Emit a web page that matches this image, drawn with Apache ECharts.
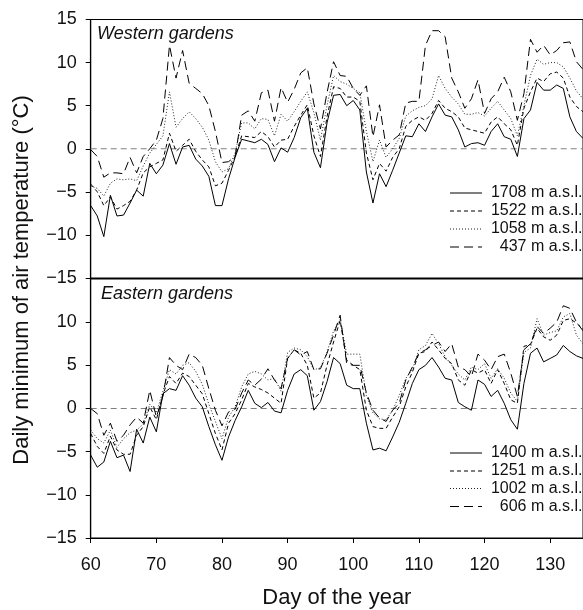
<!DOCTYPE html>
<html>
<head>
<meta charset="utf-8">
<script src="https://cdn.jsdelivr.net/npm/echarts@6/dist/echarts.min.js"></script>
<style>
  html, body { margin: 0; padding: 0; background: #fff; }
  #chart { width: 583px; height: 610px; }
</style>
</head>
<body>
<div id="chart"></div>
<script>
// Day of year 60..135
const days = [];
for (let d = 60; d <= 135; d++) days.push(d);

// Western gardens: daily minimum air temperature (°C)
const west1708 = [-6.6,-7.8,-10.2,-5.4,-7.8,-7.7,-6.3,-4.8,-5.5,-1.7,-2.9,-1.9,0.6,-1.8,0.2,0.4,-1.2,-2.0,-3.2,-6.6,-6.6,-3.5,-1.0,1.1,0.9,0.7,1.1,0.5,-1.5,0.1,-0.4,1.3,3.6,4.7,-0.4,-2.2,3.0,6.2,6.3,5.0,5.6,4.5,-2.7,-6.3,-2.9,-4.4,-2.5,-0.5,1.5,1.4,2.9,2.0,3.7,5.2,3.9,3.7,2.2,0.2,0.6,0.7,0.4,2.0,2.9,1.4,1.1,-0.9,3.5,4.5,7.7,6.8,6.8,7.4,7.0,3.7,2.0,1.2];
const west1522 = [-4.1,-5.0,-6.6,-5.6,-7.0,-6.6,-6.1,-4.8,-2.8,-2.1,-1.7,-1.3,1.8,-0.3,0.4,1.1,-0.3,-1.3,-2.1,-4.3,-4.0,-2.5,-0.9,1.5,1.4,1.3,2.0,1.4,0.2,1.0,1.1,2.6,3.9,5.1,1.5,-0.9,3.7,7.2,7.0,6.0,6.0,5.5,-0.5,-3.6,-1.7,-2.6,-1.0,0.0,2.6,3.3,3.7,3.3,4.1,5.6,4.7,4.3,3.7,2.4,2.2,2.0,1.8,3.1,3.7,2.9,2.2,0.4,4.7,6.6,8.2,7.8,8.7,8.9,8.2,6.0,4.9,4.3];
const west1058 = [-4.3,-4.6,-5.5,-4.0,-3.5,-3.6,-3.5,-3.7,-2.0,-0.5,0.5,1.5,6.6,2.5,3.5,4.3,3.5,2.5,1.0,-1.5,-2.7,-2.3,-0.5,3.0,3.0,2.3,3.5,3.4,1.5,4.0,3.2,4.3,5.5,6.6,4.2,1.0,5.0,8.5,7.8,7.5,7.0,6.5,2.0,-1.5,1.0,-1.0,0.0,1.2,3.8,4.4,4.8,5.0,5.8,8.5,7.0,6.0,5.2,4.0,4.0,4.2,3.8,4.7,5.5,4.5,3.5,1.5,5.0,8.5,10.4,9.8,10.0,10.0,9.5,8.2,6.7,5.8];
const west437 = [-0.1,-0.9,-3.3,-2.8,-2.8,-2.9,-1.0,-2.8,-0.9,0.0,1.0,3.5,12.0,8.2,11.4,7.6,7.0,6.4,5.0,2.0,-1.6,-1.5,-0.9,3.9,4.4,3.2,6.5,6.8,3.2,7.1,5.4,6.9,8.8,9.4,5.2,2.3,6.5,10.1,8.5,8.4,7.0,6.2,7.3,1.4,5.1,0.2,1.0,1.6,5.3,5.5,5.5,12.0,13.7,13.7,13.0,8.2,6.6,4.7,5.8,8.0,4.1,5.8,6.6,8.3,6.6,3.3,6.4,12.7,11.2,12.0,10.9,11.4,12.3,12.4,10.1,9.2];

// Eastern gardens
const east1400 = [-5.4,-6.8,-6.2,-3.8,-5.7,-5.4,-7.3,-2.4,-4.0,-1.0,-2.7,1.7,2.3,2.1,3.8,2.7,1.2,0.2,-2.1,-4.2,-6.0,-3.3,-1.4,0.2,2.1,0.6,0.1,0.7,-0.3,-0.5,2.1,4.0,4.5,3.8,-0.2,0.8,3.1,5.9,5.2,2.7,2.3,2.3,-1.7,-4.8,-4.6,-4.9,-3.3,-1.6,0.6,2.9,4.5,5.0,5.9,4.8,3.5,3.3,0.7,0.2,-0.2,3.3,2.8,1.4,2.1,0.6,-1.3,-2.4,2.9,6.4,7.0,5.4,5.8,6.2,7.3,6.6,6.1,5.8];
const east1251 = [-2.9,-4.4,-5.2,-3.2,-4.8,-5.3,-5.3,-3.1,-2.1,0.2,-1.3,1.6,3.7,2.9,4.1,3.7,2.7,1.7,-0.6,-2.9,-4.8,-1.7,-0.6,1.0,2.9,2.5,2.2,1.8,1.2,0.6,5.8,6.8,6.4,5.0,1.2,1.8,5.0,7.7,10.2,5.6,5.0,4.5,-0.2,-2.1,-2.3,-2.3,-1.0,0.2,2.5,4.2,6.4,6.6,7.7,6.8,5.8,5.2,3.3,2.7,4.5,4.1,4.5,2.9,4.5,2.9,1.0,0.6,7.2,7.4,9.3,8.3,7.9,8.5,10.2,10.4,9.9,9.2];
const east1002 = [-2.5,-3.5,-4.0,-2.5,-4.5,-3.5,-2.8,-2.5,-1.8,0.5,-0.5,2.0,4.5,4.0,5.0,5.3,4.3,2.8,0.5,-1.5,-3.5,-1.0,0.2,2.5,4.0,4.3,4.0,3.3,3.5,2.0,6.5,7.0,6.8,6.0,4.5,4.7,6.5,9.0,10.3,6.3,6.3,6.3,1.5,-0.5,-1.2,-1.3,-0.2,1.5,3.5,4.5,6.8,7.3,8.7,7.5,6.0,5.0,4.0,3.3,4.8,4.5,5.2,3.5,4.6,3.5,1.8,0.8,6.5,7.0,10.4,8.5,8.8,9.0,10.6,11.0,8.5,7.5];
const east606 = [0.0,-0.6,-3.1,-1.7,-3.8,-3.1,-1.9,-1.0,-1.7,2.1,-1.0,1.4,5.9,5.0,4.5,6.3,5.9,5.0,2.3,-0.2,-2.0,-0.4,-0.1,1.8,3.3,2.7,3.4,4.6,3.3,2.3,5.8,6.8,6.2,6.6,4.5,4.6,6.4,8.5,10.8,5.2,5.0,5.0,1.8,-0.2,-1.1,-1.5,-0.2,0.6,3.3,4.8,6.4,6.8,7.3,7.7,6.6,7.5,4.8,4.5,3.7,6.3,5.6,4.5,6.0,6.3,4.1,1.4,6.8,7.5,9.5,8.7,9.3,10.0,11.9,11.6,10.0,9.0];

const yTicks = [-15, -10, -5, 0, 5, 10, 15];
const xTicks = [60, 70, 80, 90, 100, 110, 120, 130];
const freezing = 0;

const westNames = ['1708 m a.s.l.', '1522 m a.s.l.', '1058 m a.s.l.', '437 m a.s.l.'];
const eastNames = ['1400 m a.s.l.', '1251 m a.s.l.', '1002 m a.s.l.', '606 m a.s.l.'];

const FONT = '"Liberation Sans", Arial, Helvetica, sans-serif';
const dashes = ['solid', [4, 3], [1, 2], [9, 5]];
const lineColors = ['#000', '#000', '#222', '#000'];

const pair = arr => arr.map((v, i) => [days[i], v]);
const fmtY = v => (v < 0 ? '\u2212' + Math.abs(v) : String(v));

function makeSeries(values, idx, panel) {
  return {
    type: 'line',
    xAxisIndex: panel,
    yAxisIndex: panel,
    data: pair(values),
    showSymbol: false,
    symbol: 'none',
    silent: true,
    animation: false,
    lineStyle: { color: lineColors[idx], width: 1, type: dashes[idx] },
    z: 3
  };
}

// dashed grey reference line at 0 °C
function zeroLine(panel) {
  return {
    type: 'line',
    xAxisIndex: panel,
    yAxisIndex: panel,
    data: [[days[0], freezing], [days[days.length - 1], freezing]],
    showSymbol: false,
    symbol: 'none',
    silent: true,
    animation: false,
    lineStyle: { color: '#808080', width: 1, type: [6, 4] },
    z: 2
  };
}

const gridLeft = 90.7;
const pxPerDay = 6.609;
const gridWidth = (135 - 60) * pxPerDay;

function xAxisCfg(panel, showLabels) {
  return {
    type: 'value', gridIndex: panel, min: 60, max: 135, interval: 10,
    position: 'bottom',
    axisLine: { show: true, onZero: false, lineStyle: { color: '#000', width: 1 } },
    axisTick: { show: showLabels, length: 5, lineStyle: { color: '#000' } },
    splitLine: { show: false },
    axisLabel: {
      show: showLabels, margin: 18, showMaxLabel: false,
      color: '#111', fontSize: 18, fontFamily: FONT,
      formatter: v => (xTicks.indexOf(v) >= 0 ? String(v) : '')
    },
    name: showLabels ? 'Day of the year' : '',
    nameLocation: 'middle', nameGap: 49,
    nameTextStyle: { color: '#111', fontSize: 22, fontFamily: FONT }
  };
}

function yAxisCfg(panel, showTop) {
  return {
    type: 'value', gridIndex: panel, min: yTicks[0], max: yTicks[yTicks.length - 1], interval: 5,
    position: 'left',
    axisLine: { show: true, onZero: false, lineStyle: { color: '#000', width: 1.2 } },
    axisTick: { show: true, length: 5, lineStyle: { color: '#000' } },
    splitLine: { show: false },
    axisLabel: {
      margin: 14, showMaxLabel: showTop,
      color: '#111', fontSize: 18, fontFamily: FONT, formatter: fmtY
    }
  };
}

function legendGraphics(names, rowY) {
  const items = [];
  names.forEach((n, i) => {
    const y = rowY[i];
    items.push({
      type: 'line', silent: true,
      shape: { x1: 450, y1: y, x2: 482, y2: y },
      style: {
        stroke: lineColors[i], lineWidth: 1,
        lineDash: dashes[i] === 'solid' ? null : dashes[i]
      }
    });
    items.push({
      type: 'text', silent: true, x: 582.5, y: y,
      style: {
        text: n, fill: '#111', font: '16px ' + FONT,
        align: 'right', verticalAlign: 'middle'
      }
    });
  });
  return items;
}

const chart = echarts.init(document.getElementById('chart'), null, { renderer: 'canvas' });

chart.setOption({
  backgroundColor: '#fff',
  animation: false,
  grid: [
    { left: gridLeft, top: 19.5, width: gridWidth, height: 258.5, show: true, borderColor: '#000', borderWidth: 1 },
    { left: gridLeft, top: 279, width: gridWidth, height: 259, show: true, borderColor: '#000', borderWidth: 1 }
  ],
  xAxis: [xAxisCfg(0, false), xAxisCfg(1, true)],
  yAxis: [yAxisCfg(0, true), yAxisCfg(1, false)],
  series: [
    zeroLine(0), zeroLine(1),
    makeSeries(west1708, 0, 0), makeSeries(west1522, 1, 0),
    makeSeries(west1058, 2, 0), makeSeries(west437, 3, 0),
    makeSeries(east1400, 0, 1), makeSeries(east1251, 1, 1),
    makeSeries(east1002, 2, 1), makeSeries(east606, 3, 1)
  ],
  graphic: [
    {
      type: 'text', silent: true, x: 97, y: 34,
      style: { text: 'Western gardens', fill: '#111', font: 'italic 18px ' + FONT, verticalAlign: 'middle' }
    },
    {
      type: 'text', silent: true, x: 101, y: 294,
      style: { text: 'Eastern gardens', fill: '#111', font: 'italic 18px ' + FONT, verticalAlign: 'middle' }
    },
    {
      type: 'text', silent: true, x: 22, y: 280, rotation: Math.PI / 2,
      style: {
        text: 'Daily minimum of air temperature (°C)', fill: '#111',
        font: '22px ' + FONT, align: 'center', verticalAlign: 'middle'
      }
    }
  ].concat(legendGraphics(westNames, [193, 211, 229, 247]))
   .concat(legendGraphics(eastNames, [453, 471, 488.5, 506.5]))
});
</script>
</body>
</html>
